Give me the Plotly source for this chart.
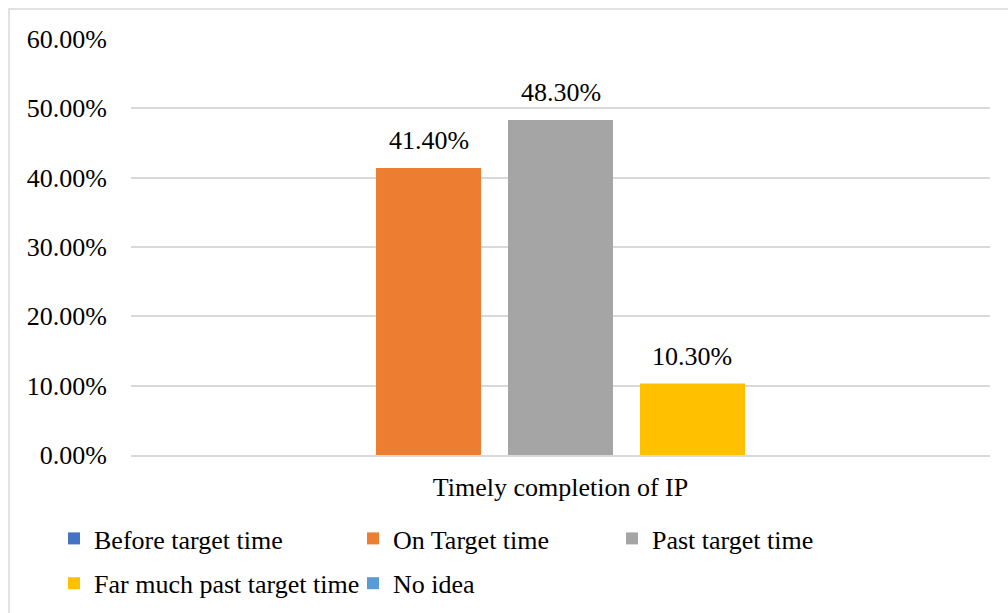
import plotly.graph_objects as go

# Survey responses for a single question
category = ["Timely completion of IP"]
series_names = [
    "Before target time",
    "On Target time",
    "Past target time",
    "Far much past target time",
    "No idea",
]
series_values = [0.0, 0.414, 0.483, 0.103, 0.0]
series_colors = ["#4472C4", "#ED7D31", "#A5A5A5", "#FFC000", "#5B9BD5"]
# legend column each series belongs to
series_legend = ["legend", "legend2", "legend3", "legend", "legend2"]
y_ticks = [0.0, 0.1, 0.2, 0.3, 0.4, 0.5, 0.6]

FONT = "Liberation Serif, Times New Roman, serif"
FS = 26
BARGAP = 0.2317
GROUPGAP = 0.2045

fig = go.Figure()
for name, val, col, lg in zip(series_names, series_values, series_colors, series_legend):
    fig.add_trace(go.Bar(
        x=category, y=[val], name=name, marker_color=col,
        marker_line_width=0, legend=lg, legendgroup=name,
        hoverinfo="skip",
    ))

# value labels above the non-zero bars, centred on each bar slot
n = len(series_values)
slot = (1 - BARGAP) / n
annotations = []
for i, val in enumerate(series_values):
    if val > 0:
        annotations.append(dict(
            x=(i - (n - 1) / 2) * slot, y=val, xref="x", yref="y",
            text=f"{val * 100:.2f}%", showarrow=False,
            yanchor="bottom", yshift=11,
            font=dict(family=FONT, size=FS, color="#000000"),
        ))

# chart-area border (right and bottom edges fall outside the page)
shapes = [dict(
    type="rect", xref="paper", yref="paper",
    x0=(9 - 131) / 859, x1=1.2, y0=-0.45, y1=(455 - 9) / 416,
    line=dict(color="#D9D9D9", width=1.5), fillcolor="rgba(0,0,0,0)",
    layer="below",
)]

legend_common = dict(
    orientation="v", xref="container", yref="container",
    xanchor="left", yanchor="top", bgcolor="rgba(0,0,0,0)",
    font=dict(family=FONT, size=FS, color="#000000"),
    tracegroupgap=8, itemclick=False, itemdoubleclick=False,
)
legend_top = 1 - 515 / 613

fig.update_layout(
    width=1008, height=613,
    margin=dict(l=131, r=18, t=39, b=158, autoexpand=False),
    paper_bgcolor="white", plot_bgcolor="white",
    barmode="group", bargap=BARGAP, bargroupgap=GROUPGAP,
    font=dict(family=FONT, size=FS, color="#000000"),
    xaxis=dict(
        range=[-0.5, 0.5], automargin=False,
        showgrid=False, showline=True, linecolor="#D9D9D9", linewidth=1.5,
        ticks="", ticklabelstandoff=8,
        tickfont=dict(family=FONT, size=FS, color="#000000"),
    ),
    yaxis=dict(
        range=[0, 0.6], tickvals=y_ticks, tickformat=".2%", automargin=False,
        showgrid=True, gridcolor="#D9D9D9", gridwidth=1.5,
        zeroline=False, showline=False, ticks="",
        ticklabelstandoff=23,
        tickfont=dict(family=FONT, size=FS, color="#000000"),
    ),
    legend=dict(legend_common, x=54 / 1008, y=legend_top),
    legend2=dict(legend_common, x=353 / 1008, y=legend_top),
    legend3=dict(legend_common, x=612 / 1008, y=legend_top),
    annotations=annotations,
    shapes=shapes,
)

fig.write_html("out.html")
